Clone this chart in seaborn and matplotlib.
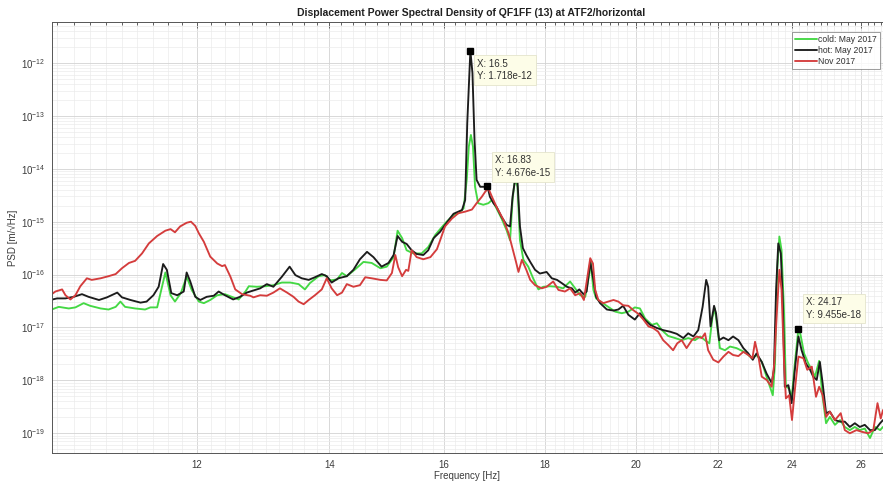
import numpy as np
import pandas as pd
import matplotlib
matplotlib.use("Agg")
import matplotlib.pyplot as plt
import matplotlib.ticker as mticker
import seaborn as sns

# ---------------- data (frequency [Hz], log10 of PSD) ----------------
series_labels = ["cold: May 2017", "hot: May 2017", "Nov 2017"]
series_colors = ["#44d844", "#1c1c1c", "#d43c3c"]

cold_freq = [10.12, 10.22, 10.34, 10.42, 10.52, 10.60, 10.73, 10.83, 10.92, 10.98, 11.04, 11.17, 11.30, 11.37,
             11.46, 11.52, 11.57, 11.64, 11.70, 11.78, 11.86, 11.93, 12.03, 12.10, 12.19, 12.29, 12.40, 12.50,
             12.60, 12.70, 12.75, 12.87, 13.00, 13.12, 13.25, 13.38, 13.51, 13.61, 13.69, 13.83, 13.93, 14.02,
             14.13, 14.21, 14.29, 14.43, 14.57, 14.71, 14.86, 14.97, 15.09, 15.16, 15.24, 15.32, 15.44, 15.59,
             15.71, 15.84, 15.93, 16.05, 16.18, 16.27, 16.37, 16.43, 16.47, 16.51, 16.55, 16.59, 16.65, 16.75,
             16.85, 16.92, 17.01, 17.11, 17.21, 17.28, 17.33, 17.38, 17.43, 17.48, 17.55, 17.65, 17.75, 17.86,
             17.96, 18.10, 18.25, 18.38, 18.53, 18.64, 18.75, 18.86, 18.95, 18.98, 19.04, 19.10, 19.23, 19.37,
             19.53, 19.68, 19.83, 19.98, 20.10, 20.22, 20.38, 20.50, 20.62, 20.77, 20.94, 21.10, 21.26, 21.43,
             21.56, 21.68, 21.79, 21.87, 21.93, 21.99, 22.06, 22.19, 22.32, 22.49, 22.63, 22.76, 22.89, 23.02,
             23.16, 23.29, 23.46, 23.52, 23.58, 23.64, 23.70, 23.77, 23.82, 23.91, 23.98, 24.07, 24.17, 24.23,
             24.33, 24.45, 24.55, 24.64, 24.76, 24.86, 24.96, 25.07, 25.22, 25.37, 25.51, 25.66, 25.81, 25.96,
             26.11, 26.27, 26.42, 26.58, 26.67]
cold_log_psd = [-16.67, -16.61, -16.64, -16.62, -16.54, -16.59, -16.64, -16.66, -16.61, -16.51, -16.61, -16.64,
                -16.66, -16.62, -16.62, -16.26, -15.96, -16.39, -16.51, -16.35, -16.04, -16.29, -16.51, -16.54,
                -16.48, -16.39, -16.37, -16.42, -16.47, -16.32, -16.22, -16.23, -16.22, -16.20, -16.15, -16.15,
                -16.18, -16.28, -16.16, -16.03, -16.01, -16.11, -16.09, -15.97, -16.03, -15.90, -15.76, -15.78,
                -15.88, -15.85, -15.67, -15.17, -15.31, -15.54, -15.60, -15.60, -15.48, -15.25, -15.14, -15.00,
                -14.87, -14.84, -14.75, -14.21, -13.58, -13.36, -13.58, -14.34, -14.65, -14.68, -14.65, -14.59,
                -14.75, -14.94, -15.16, -15.35, -14.59, -14.18, -14.34, -15.35, -15.72, -15.85, -16.07, -16.28,
                -16.23, -16.22, -16.23, -16.26, -16.13, -16.26, -16.39, -16.42, -15.98, -15.76, -16.29, -16.45,
                -16.53, -16.61, -16.70, -16.73, -16.70, -16.62, -16.64, -16.83, -16.95, -16.92, -17.05, -17.16,
                -17.20, -17.24, -17.20, -17.24, -17.17, -17.24, -17.30, -16.80, -16.64, -16.98, -17.39, -17.43,
                -17.36, -17.39, -17.44, -17.49, -17.58, -17.52, -17.65, -17.93, -18.28, -17.68, -15.91, -15.28,
                -15.54, -16.73, -18.12, -18.15, -18.34, -17.68, -17.02, -17.14, -17.49, -17.68, -17.80, -17.93,
                -17.63, -18.31, -18.81, -18.69, -18.84, -18.75, -18.88, -18.94, -18.88, -18.94, -18.91, -19.09,
                -18.88, -18.94, -18.88]

hot_freq = [10.12, 10.20, 10.30, 10.40, 10.50, 10.58, 10.71, 10.81, 10.94, 11.00, 11.11, 11.24, 11.32, 11.41,
            11.48, 11.54, 11.59, 11.65, 11.73, 11.82, 11.86, 11.91, 11.98, 12.05, 12.14, 12.24, 12.31, 12.40,
            12.52, 12.62, 12.72, 12.82, 12.92, 13.02, 13.12, 13.25, 13.37, 13.46, 13.56, 13.67, 13.77, 13.88,
            13.96, 14.04, 14.15, 14.29, 14.40, 14.51, 14.63, 14.74, 14.88, 15.00, 15.09, 15.16, 15.24, 15.32,
            15.41, 15.50, 15.62, 15.71, 15.81, 15.93, 16.05, 16.18, 16.27, 16.34, 16.40, 16.44, 16.48, 16.50,
            16.54, 16.58, 16.62, 16.69, 16.79, 16.83, 16.88, 16.95, 17.01, 17.11, 17.21, 17.28, 17.33, 17.38,
            17.43, 17.48, 17.54, 17.61, 17.69, 17.79, 17.89, 18.03, 18.14, 18.25, 18.35, 18.46, 18.57, 18.64,
            18.73, 18.82, 18.89, 18.97, 19.04, 19.10, 19.19, 19.34, 19.49, 19.60, 19.71, 19.83, 19.98, 20.10,
            20.22, 20.34, 20.50, 20.65, 20.82, 20.98, 21.14, 21.26, 21.39, 21.51, 21.62, 21.71, 21.76, 21.82,
            21.91, 21.96, 22.04, 22.15, 22.28, 22.40, 22.54, 22.67, 22.80, 22.92, 23.02, 23.16, 23.29, 23.43,
            23.49, 23.55, 23.61, 23.68, 23.73, 23.79, 23.89, 23.98, 24.07, 24.17, 24.26, 24.38, 24.50, 24.59,
            24.69, 24.78, 24.86, 24.96, 25.07, 25.22, 25.37, 25.51, 25.66, 25.81, 25.96, 26.11, 26.27, 26.42,
            26.58, 26.67]
hot_log_psd = [-16.48, -16.45, -16.45, -16.42, -16.37, -16.42, -16.48, -16.43, -16.34, -16.43, -16.48, -16.53,
               -16.51, -16.39, -16.23, -15.80, -15.91, -16.35, -16.39, -16.32, -15.96, -16.13, -16.42, -16.48,
               -16.42, -16.40, -16.32, -16.39, -16.47, -16.42, -16.34, -16.30, -16.26, -16.18, -16.23, -16.04,
               -15.85, -16.01, -16.07, -16.10, -16.05, -15.99, -16.03, -16.15, -16.07, -16.03, -15.91, -15.71,
               -15.57, -15.67, -15.85, -15.78, -15.63, -15.27, -15.38, -15.42, -15.54, -15.61, -15.63, -15.54,
               -15.31, -15.19, -15.02, -14.85, -14.81, -14.78, -14.59, -13.14, -12.19, -11.765, -12.19, -13.46,
               -14.21, -14.34, -14.34, -14.33, -14.53, -14.65, -14.72, -14.91, -15.06, -15.09, -14.53, -14.21,
               -14.24, -15.09, -15.50, -15.63, -15.76, -15.91, -15.98, -15.95, -16.07, -16.10, -16.16, -16.23,
               -16.26, -16.34, -16.28, -16.37, -16.32, -15.76, -16.10, -16.42, -16.54, -16.66, -16.68, -16.66,
               -16.59, -16.76, -16.85, -16.73, -16.86, -16.95, -17.01, -17.05, -17.08, -17.12, -17.20, -17.11,
               -17.17, -17.05, -16.61, -16.10, -16.23, -16.98, -16.59, -16.73, -17.24, -17.19, -17.24, -17.17,
               -17.24, -17.39, -17.49, -17.61, -17.49, -17.65, -17.87, -18.05, -17.80, -16.29, -15.41, -15.60,
               -16.42, -18.12, -18.09, -18.43, -17.80, -17.17, -17.43, -17.68, -17.80, -17.93, -17.99, -17.65,
               -18.05, -18.62, -18.59, -18.75, -18.78, -18.78, -18.88, -18.81, -18.88, -18.84, -18.94, -18.94,
               -18.81, -18.75]

nov_freq = [10.12, 10.18, 10.26, 10.30, 10.36, 10.42, 10.48, 10.56, 10.62, 10.73, 10.83, 10.92, 11.00, 11.09,
            11.17, 11.26, 11.35, 11.46, 11.57, 11.64, 11.70, 11.77, 11.86, 11.92, 11.98, 12.03, 12.10, 12.19,
            12.29, 12.36, 12.40, 12.48, 12.55, 12.65, 12.77, 12.82, 12.92, 13.02, 13.12, 13.22, 13.33, 13.43,
            13.51, 13.59, 13.67, 13.77, 13.88, 13.96, 14.04, 14.13, 14.21, 14.29, 14.40, 14.51, 14.60, 14.71,
            14.86, 14.97, 15.06, 15.12, 15.17, 15.24, 15.31, 15.35, 15.41, 15.50, 15.62, 15.75, 15.87, 15.93,
            16.02, 16.15, 16.27, 16.40, 16.53, 16.62, 16.72, 16.79, 16.85, 16.92, 17.01, 17.15, 17.25, 17.32,
            17.40, 17.45, 17.52, 17.61, 17.69, 17.79, 17.93, 18.03, 18.17, 18.28, 18.42, 18.53, 18.64, 18.75,
            18.83, 18.92, 18.97, 19.03, 19.08, 19.15, 19.26, 19.37, 19.49, 19.60, 19.71, 19.83, 19.94, 20.06,
            20.18, 20.30, 20.41, 20.53, 20.65, 20.77, 20.89, 20.99, 21.10, 21.22, 21.35, 21.47, 21.60, 21.68,
            21.76, 21.89, 22.02, 22.15, 22.28, 22.40, 22.54, 22.67, 22.80, 22.91, 22.98, 23.07, 23.16, 23.29,
            23.43, 23.50, 23.57, 23.64, 23.70, 23.77, 23.82, 23.91, 23.99, 24.07, 24.17, 24.31, 24.42, 24.55,
            24.67, 24.76, 24.86, 24.96, 25.07, 25.22, 25.39, 25.51, 25.66, 25.86, 26.01, 26.21, 26.37, 26.50,
            26.60, 26.67]
nov_log_psd = [-16.39, -16.32, -16.28, -16.39, -16.47, -16.39, -16.22, -16.07, -16.10, -16.07, -16.03, -15.99,
               -15.88, -15.78, -15.74, -15.60, -15.41, -15.27, -15.17, -15.14, -15.20, -15.09, -15.02, -15.00,
               -15.08, -15.22, -15.38, -15.66, -15.79, -15.84, -15.82, -16.04, -16.28, -16.37, -16.40, -16.43,
               -16.39, -16.40, -16.34, -16.26, -16.34, -16.42, -16.51, -16.56, -16.48, -16.39, -16.28, -16.07,
               -16.26, -16.39, -16.34, -16.18, -16.23, -16.20, -16.05, -16.07, -16.10, -16.11, -15.97, -15.63,
               -15.86, -16.03, -15.91, -15.93, -15.54, -15.67, -15.71, -15.67, -15.52, -15.35, -15.09, -14.94,
               -14.84, -14.81, -14.77, -14.65, -14.53, -14.43, -14.37, -14.53, -14.72, -14.97, -15.22, -15.47,
               -15.76, -15.95, -15.72, -15.91, -16.10, -16.20, -16.26, -16.23, -16.13, -16.29, -16.32, -16.26,
               -16.39, -16.35, -16.48, -15.98, -15.69, -15.79, -16.29, -16.48, -16.54, -16.51, -16.48, -16.51,
               -16.58, -16.59, -16.67, -16.74, -16.85, -16.98, -17.01, -17.08, -17.24, -17.33, -17.43, -17.30,
               -17.24, -17.39, -17.24, -17.17, -17.20, -17.11, -17.43, -17.61, -17.66, -17.55, -17.46, -17.52,
               -17.54, -17.46, -17.52, -17.58, -17.27, -17.55, -17.93, -17.99, -18.12, -17.68, -16.73, -15.91,
               -16.29, -17.68, -18.34, -18.28, -18.75, -18.18, -17.55, -17.58, -17.80, -17.74, -18.31, -18.12,
               -18.28, -18.69, -18.59, -18.75, -18.62, -18.94, -19.00, -18.94, -18.97, -19.00, -18.94, -18.43,
               -18.72, -18.56]

# data tips shown on the chart
tip_freq = [16.5, 16.83, 24.17]
tip_psd = [1.718e-12, 4.676e-15, 9.455e-18]

x_tick_values = [12, 14, 16, 18, 20, 22, 24, 26]
y_tick_values = [1e-19, 1e-18, 1e-17, 1e-16, 1e-15, 1e-14, 1e-13, 1e-12]

# ---------------- build table ----------------
frames = []
for lab, fr, lp in zip(series_labels, [cold_freq, hot_freq, nov_freq],
                       [cold_log_psd, hot_log_psd, nov_log_psd]):
    frames.append(pd.DataFrame({"Frequency": fr, "PSD": 10.0 ** np.asarray(lp), "series": lab}))
df = pd.concat(frames, ignore_index=True)

# ---------------- style ----------------
sns.set_theme(style="white")
plt.rcParams["font.family"] = ["Liberation Sans", "DejaVu Sans"]
plt.rcParams["mathtext.fontset"] = "custom"
plt.rcParams["mathtext.rm"] = "Liberation Sans"
plt.rcParams["mathtext.it"] = "Liberation Sans:italic"
plt.rcParams["mathtext.bf"] = "Liberation Sans:bold"

W, H = 883, 484
fig = plt.figure(figsize=(W / 100, H / 100), dpi=100)
ax_l, ax_r, ax_t, ax_b = 52, 883, 22, 453
ax = fig.add_axes([ax_l / W, (H - ax_b) / H, (ax_r - ax_l) / W, (ax_b - ax_t) / H])

sns.lineplot(data=df, x="Frequency", y="PSD", hue="series", hue_order=series_labels,
             palette=series_colors, estimator=None, sort=False, linewidth=1.35, ax=ax)

ax.set_xscale("log")
ax.set_yscale("log")
ax.set_xlim(10.14, 26.67)
ax.set_ylim(4.24e-20, 5.96e-12)

ax.xaxis.set_major_locator(mticker.FixedLocator(x_tick_values))
ax.xaxis.set_major_formatter(mticker.FixedFormatter([str(v) for v in x_tick_values]))
ax.xaxis.set_minor_locator(mticker.MultipleLocator(0.2))
ax.xaxis.set_minor_formatter(mticker.NullFormatter())
ax.yaxis.set_major_locator(mticker.FixedLocator(y_tick_values))
ax.yaxis.set_major_formatter(mticker.LogFormatterSciNotation())
ax.yaxis.set_minor_locator(mticker.LogLocator(base=10, subs=np.arange(2, 10), numticks=300))
ax.yaxis.set_minor_formatter(mticker.NullFormatter())

tick_col = "#3c3c3c"
ax.tick_params(which="both", direction="in", top=True, right=False, colors="#4a4a4a",
               labelcolor=tick_col, labelsize=7, width=0.6)
ax.tick_params(which="major", length=4, pad=5)
ax.tick_params(which="minor", length=2.2)

ax.grid(which="major", color="#d2d2d2", linewidth=0.6)
ax.grid(which="minor", color="#ebebeb", linewidth=0.5)
ax.set_axisbelow(True)

for side in ["left", "bottom", "top"]:
    ax.spines[side].set_color("#555555")
    ax.spines[side].set_linewidth(0.7)
ax.spines["right"].set_visible(False)

ax.set_xlabel("Frequency [Hz]", fontsize=7, color=tick_col)
ax.set_ylabel("PSD [m/\u221aHz]", fontsize=7, color=tick_col)
ax.xaxis.set_label_coords(0.5, -(471 - ax_b) / (ax_b - ax_t))
ax.yaxis.set_label_coords(-(52 - 18) / (ax_r - ax_l), 0.5)

fig.text(471 / W, 1 - 13 / H, "Displacement Power Spectral Density of QF1FF (13) at ATF2/horizontal",
         ha="center", va="center", fontsize=7.5, fontweight="bold", color="#202020")

# legend
handles, labels = ax.get_legend_handles_labels()
if ax.get_legend() is not None:
    ax.get_legend().remove()
leg = ax.legend(handles, labels, loc="upper right",
                bbox_to_anchor=(1 - 3 / (ax_r - ax_l), 1 - 10 / (ax_b - ax_t)),
                borderaxespad=0, fontsize=6.2, frameon=True, fancybox=False,
                handlelength=2.5, handletextpad=0.15, borderpad=0.35, labelspacing=0.25)
leg.get_frame().set_edgecolor("#707070")
leg.get_frame().set_linewidth(0.6)
for t in leg.get_texts():
    t.set_color("#303030")

# data tips
ax.plot(tip_freq, tip_psd, linestyle="none", marker="s", markersize=5, color="black", zorder=6)
offsets = [(7, -8, "top"), (8, 8, "bottom"), (8, 9, "bottom")]
for fx, py, (dx, dy, va) in zip(tip_freq, tip_psd, offsets):
    ax.annotate(f"X: {fx:g}\nY: {py:.3e}", xy=(fx, py), xytext=(dx, dy), textcoords="offset pixels",
                ha="left", va=va, fontsize=7, color="#303030", linespacing=1.35, zorder=7,
                bbox=dict(boxstyle="square,pad=0.35", facecolor="#fdfde8", edgecolor="#e4e4cc", linewidth=0.6))

fig.savefig("out.png", dpi=100)
